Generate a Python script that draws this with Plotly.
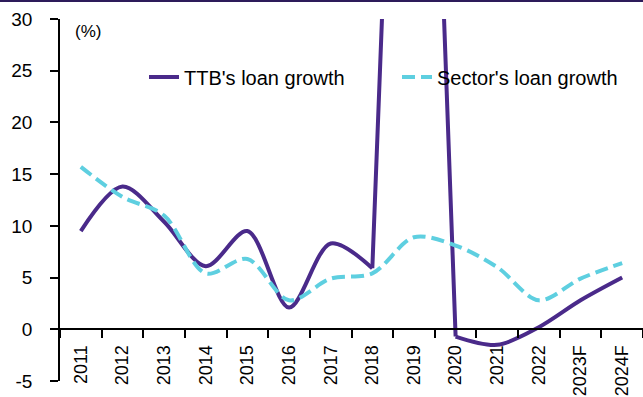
import plotly.graph_objects as go

years = ["2011", "2012", "2013", "2014", "2015", "2016", "2017", "2018",
         "2019", "2020", "2021", "2022", "2023F", "2024F"]
ttb_growth = [9.5, 13.8, 10.4, 6.1, 9.5, 2.1, 8.3, 5.9, 110.0, -0.7, -1.5, 0.2, 2.8, 5.0]
sector_growth = [15.7, 12.8, 11.0, 5.4, 6.8, 2.8, 4.9, 5.4, 8.9, 8.1, 6.0, 2.8, 4.9, 6.4]
y_ticks = [-5, 0, 5, 10, 15, 20, 25, 30]
y_tick_text = ["-5", "0", "5", "10", "15", "20", "25", "30"]

PURPLE = "#4a2a8a"
CYAN = "#5ecfe0"
FONT = "Liberation Sans"

fig = go.Figure()
# TTB series: smooth before and after the 2019 spike, straight through the spike
pieces = [(0, 8, "spline"), (7, 10, "linear"), (9, 14, "spline")]
for k, (a, b, shape) in enumerate(pieces):
    line = dict(color=PURPLE, width=4, shape=shape)
    if shape == "spline":
        line["smoothing"] = 0.9
    fig.add_trace(go.Scatter(
        x=years[a:b], y=ttb_growth[a:b], mode="lines", name="TTB's loan growth",
        legendgroup="ttb", showlegend=(k == 0), line=line,
    ))
fig.add_trace(go.Scatter(
    x=years, y=sector_growth, mode="lines", name="Sector's loan growth",
    line=dict(color=CYAN, width=4, shape="spline", smoothing=0.9, dash="13px,6px"),
))

fig.update_layout(
    width=643, height=397,
    margin=dict(l=60, r=0, t=19, b=16, autoexpand=False),
    plot_bgcolor="white", paper_bgcolor="white",
    font=dict(family=FONT, size=18, color="black"),
    showlegend=True,
    legend=dict(orientation="h", x=0.1441, y=0.8398, xanchor="left", yanchor="middle",
                bgcolor="rgba(0,0,0,0)", font=dict(size=20),
                entrywidth=208, entrywidthmode="pixels"),
    xaxis=dict(
        type="category", categoryorder="array", categoryarray=years,
        range=[-0.5, 13.5], automargin=False,
        anchor="free", position=5 / 35,
        showline=True, linecolor="black", linewidth=1.5,
        ticks="outside", tickson="boundaries", ticklen=8, tickcolor="black", tickwidth=1.5,
        tickangle=-90, tickfont=dict(size=18), ticklabelstandoff=8,
        showgrid=False, zeroline=False,
    ),
    yaxis=dict(
        range=[-5, 30], tickmode="array", tickvals=y_ticks, ticktext=y_tick_text,
        automargin=False,
        showline=True, linecolor="black", linewidth=1.5,
        ticks="outside", ticklen=8, tickcolor="black", tickwidth=1.5,
        ticklabelstandoff=14, tickfont=dict(size=19),
        showgrid=False, zeroline=False,
    ),
)

fig.add_annotation(text="(%)", xref="paper", yref="paper", x=0.022, y=0.965,
                   xanchor="left", yanchor="middle", showarrow=False,
                   font=dict(size=17))
fig.add_shape(type="line", xref="paper", yref="paper",
              x0=-60 / 583, x1=1.0, y0=1 + 18 / 362, y1=1 + 18 / 362,
              line=dict(color="#2d1b5a", width=2))

fig.write_html("out.html")
